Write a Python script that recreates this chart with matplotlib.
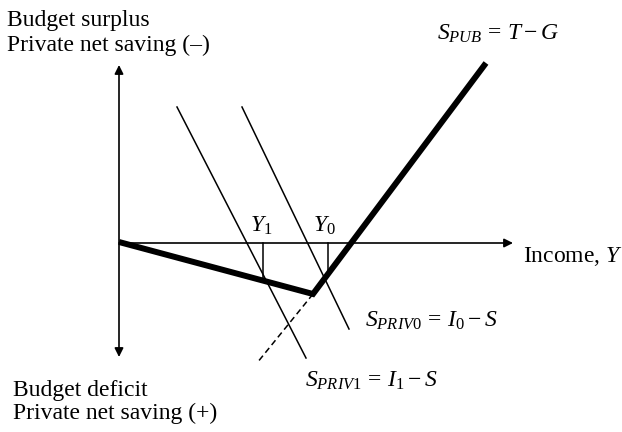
import matplotlib.pyplot as plt

plt.rcParams['font.family'] = ['Liberation Serif', 'DejaVu Serif']
plt.rcParams['mathtext.fontset'] = 'custom'
plt.rcParams['mathtext.rm'] = 'Liberation Serif'
plt.rcParams['mathtext.it'] = 'Liberation Serif:italic'

# diagram geometry (image-like units, y grows downward)
y_axis_x = 119
y_axis_top, y_axis_bot = 65, 357
x_axis_y = 243
x_axis_end = 513

pub_x = [119, 313, 486]
pub_y = [242, 294, 63]
priv1_x = [177, 306]
priv1_y = [107, 358]
priv0_x = [242, 349]
priv0_y = [107, 329]
dash_x = [313, 257]
dash_y = [294, 363]
y1_x, y1_bot = 263, 279
y0_x, y0_bot = 328, 275

fs = 17

fig = plt.figure(figsize=(6.22, 4.32), dpi=100)
ax = fig.add_axes([0, 0, 1, 1])
ax.set_xlim(0, 622)
ax.set_ylim(432, 0)
ax.axis('off')

ax.annotate('', xy=(y_axis_x, y_axis_top), xytext=(y_axis_x, y_axis_bot),
            arrowprops=dict(arrowstyle='<|-|>', color='black', lw=1.2,
                            mutation_scale=13, shrinkA=0, shrinkB=0))
ax.annotate('', xy=(x_axis_end, x_axis_y), xytext=(y_axis_x, x_axis_y),
            arrowprops=dict(arrowstyle='-|>', color='black', lw=1.2,
                            mutation_scale=13, shrinkA=0, shrinkB=0))

ax.plot(priv1_x, priv1_y, color='black', lw=1.1)
ax.plot(priv0_x, priv0_y, color='black', lw=1.1)
ax.plot(dash_x, dash_y, color='black', lw=1.1, ls=(0, (4, 2.5)))
ax.plot([y1_x, y1_x], [x_axis_y, y1_bot], color='black', lw=1.1)
ax.plot([y0_x, y0_x], [x_axis_y, y0_bot], color='black', lw=1.1)
ax.plot(pub_x, pub_y, color='black', lw=4.3, solid_joinstyle='miter',
        solid_capstyle='butt')

ax.text(7, 26, 'Budget surplus', fontsize=fs, va='baseline')
ax.text(7, 51, 'Private net saving (–)', fontsize=fs, va='baseline')
ax.text(13, 396, 'Budget deficit', fontsize=fs, va='baseline')
ax.text(13, 419, 'Private net saving (+)', fontsize=fs, va='baseline')
ax.text(523, 262, r'Income, $Y$', fontsize=fs, va='baseline')
ax.text(437, 40, r'$S_{PUB}\,=\,T - G$', fontsize=fs, va='baseline')
ax.text(365, 327, r'$S_{PRIV0}\,=\,I_0 - S$', fontsize=fs, va='baseline')
ax.text(305, 387, r'$S_{PRIV1}\,=\,I_1 - S$', fontsize=fs, va='baseline')
ax.text(250, 232, r'$Y_1$', fontsize=fs, va='baseline')
ax.text(313, 232, r'$Y_0$', fontsize=fs, va='baseline')

fig.savefig('out.png', dpi=100)
